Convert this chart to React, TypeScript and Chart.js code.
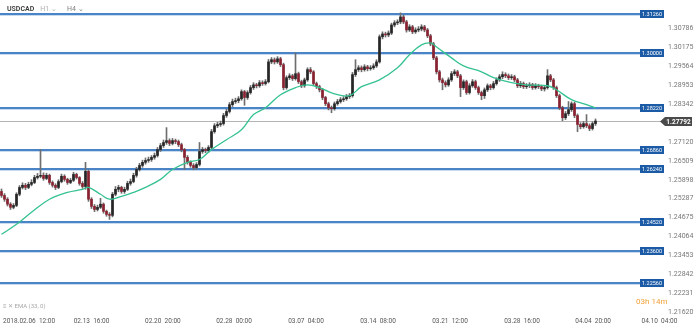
import React, { useEffect, useRef } from "react";
import { Chart, registerables } from "chart.js";
Chart.register(...registerables);

// ---- data (USDCAD, H4) ----
const firstOpen = 1.2552;
const closes = [
  1.2539, 1.2527, 1.2511, 1.2501, 1.2507, 1.2543, 1.2565, 1.2572, 1.2565, 1.2575,
  1.2581, 1.2597, 1.2601, 1.2604, 1.2594, 1.2604, 1.2581, 1.2572, 1.2565, 1.2584,
  1.2601, 1.2591, 1.2581, 1.2588, 1.2607, 1.2597, 1.2578, 1.2568, 1.2617, 1.2527,
  1.2504, 1.2494, 1.2501, 1.2511, 1.2488, 1.2478, 1.2475, 1.2543, 1.2559, 1.2565,
  1.2552, 1.2559, 1.2578, 1.2584, 1.2604, 1.2623, 1.2636, 1.2646, 1.2652, 1.2655,
  1.2662, 1.2668, 1.2687, 1.27, 1.271, 1.2716, 1.2707, 1.2716, 1.2713, 1.2703,
  1.2687, 1.2662, 1.2646, 1.2636, 1.2629, 1.2639, 1.2681, 1.2687, 1.2684, 1.2694,
  1.2745, 1.2764, 1.2768, 1.2771, 1.2797, 1.281, 1.2832, 1.2842, 1.2845, 1.2851,
  1.2874, 1.2855, 1.2871, 1.2887, 1.2896, 1.2893, 1.2903, 1.29, 1.2906, 1.297,
  1.2977, 1.297, 1.298, 1.2961, 1.2887, 1.2919, 1.2925, 1.2916, 1.2932, 1.2906,
  1.2893, 1.2912, 1.2945, 1.2938, 1.29, 1.289, 1.288, 1.2855, 1.2835, 1.2822,
  1.2819, 1.2835, 1.2842, 1.2848, 1.2851, 1.2858, 1.2861, 1.2929, 1.2945, 1.2951,
  1.2945, 1.2954, 1.2948, 1.2951, 1.2957, 1.297, 1.3051, 1.306, 1.3057, 1.3063,
  1.3089, 1.3096, 1.3099, 1.3115, 1.3099, 1.3073, 1.3083, 1.3067, 1.3073, 1.3076,
  1.3083, 1.3073, 1.3054, 1.3028, 1.2983, 1.2938, 1.2912, 1.2903, 1.2896, 1.2912,
  1.2932, 1.2938, 1.2925, 1.2887, 1.2906, 1.2871, 1.2893, 1.2906, 1.2887, 1.2871,
  1.2861, 1.288, 1.2893, 1.2887, 1.29, 1.2912, 1.2922, 1.2929, 1.2925, 1.2919,
  1.2922, 1.2912, 1.2893, 1.29, 1.289, 1.2893, 1.2896, 1.2887, 1.2893, 1.289,
  1.2883, 1.2887, 1.2925, 1.2912, 1.2887, 1.2861, 1.2822, 1.279, 1.2803, 1.2816,
  1.2835, 1.2797, 1.2768, 1.2761, 1.2771, 1.2764, 1.2755, 1.2771, 1.27792,
];
const highs = [
  1.256, 1.2545, 1.2532, 1.2516, 1.2513, 1.2548, 1.2571, 1.258, 1.2578, 1.2582,
  1.259, 1.2604, 1.261, 1.2687, 1.2612, 1.2611, 1.2608, 1.2586, 1.2577, 1.259,
  1.2608, 1.2606, 1.2595, 1.2594, 1.2614, 1.2611, 1.26, 1.2584, 1.2646, 1.2622,
  1.2532, 1.251, 1.2508, 1.253, 1.2515, 1.2492, 1.2484, 1.2549, 1.2568, 1.2572,
  1.2569, 1.2566, 1.2585, 1.2592, 1.2611, 1.263, 1.2643, 1.2653, 1.266, 1.2663,
  1.2668, 1.2676, 1.2694, 1.2707, 1.2718, 1.2758, 1.2722, 1.2723, 1.2721, 1.2718,
  1.2708, 1.2691, 1.2668, 1.2651, 1.2642, 1.2645, 1.271, 1.2694, 1.2692, 1.27,
  1.2752, 1.2771, 1.2775, 1.2779, 1.2804, 1.2817, 1.2839, 1.285, 1.2853, 1.2858,
  1.288, 1.2878, 1.2877, 1.2894, 1.2903, 1.2901, 1.291, 1.2909, 1.2913, 1.2978,
  1.2984, 1.2983, 1.2987, 1.2985, 1.2966, 1.2925, 1.2932, 1.293, 1.2999, 1.2937,
  1.2911, 1.2918, 1.2951, 1.2952, 1.2942, 1.2905, 1.2895, 1.2884, 1.2859, 1.284,
  1.2828, 1.2841, 1.2849, 1.2855, 1.2858, 1.2865, 1.2868, 1.2936, 1.2977, 1.2958,
  1.2957, 1.2961, 1.2959, 1.2958, 1.2964, 1.2977, 1.3057, 1.3067, 1.3066, 1.307,
  1.3095, 1.3103, 1.3106, 1.3128, 1.3121, 1.3104, 1.309, 1.3088, 1.308, 1.3084,
  1.309, 1.3088, 1.3078, 1.3059, 1.3033, 1.2988, 1.2943, 1.2918, 1.2909, 1.2919,
  1.2939, 1.2945, 1.2943, 1.293, 1.2912, 1.2911, 1.29, 1.2913, 1.2911, 1.2892,
  1.2876, 1.2886, 1.2899, 1.2898, 1.2907, 1.2919, 1.2929, 1.2938, 1.2935, 1.2931,
  1.2929, 1.2927, 1.2917, 1.2907, 1.2905, 1.29, 1.2903, 1.2901, 1.29, 1.2898,
  1.2895, 1.2894, 1.2945, 1.293, 1.2917, 1.2892, 1.2866, 1.2827, 1.281, 1.2842,
  1.2841, 1.284, 1.2802, 1.2774, 1.2778, 1.28, 1.277, 1.2777, 1.2786,
];
const lows = [
  1.2533, 1.252, 1.2505, 1.2494, 1.2496, 1.2503, 1.2538, 1.256, 1.2558, 1.2561,
  1.257, 1.2577, 1.2592, 1.2596, 1.2588, 1.259, 1.2575, 1.2566, 1.2558, 1.2561,
  1.258, 1.2585, 1.2575, 1.2577, 1.2584, 1.2592, 1.2572, 1.2562, 1.2559, 1.252,
  1.2497, 1.2487, 1.2489, 1.2497, 1.2482, 1.2472, 1.2462, 1.247, 1.2538, 1.2551,
  1.2546, 1.2546, 1.2555, 1.2572, 1.258, 1.2598, 1.2618, 1.263, 1.264, 1.2646,
  1.2649, 1.2656, 1.2663, 1.2681, 1.2694, 1.2704, 1.27, 1.2702, 1.2706, 1.2697,
  1.268, 1.2623, 1.264, 1.263, 1.2622, 1.2624, 1.2634, 1.2675, 1.2677, 1.2678,
  1.269, 1.274, 1.2758, 1.2762, 1.2766, 1.2791, 1.2805, 1.2826, 1.2836, 1.2838,
  1.2846, 1.283, 1.2849, 1.2866, 1.2881, 1.2886, 1.2888, 1.2894, 1.2895, 1.2902,
  1.2964, 1.2963, 1.2965, 1.2955, 1.288, 1.2882, 1.2913, 1.291, 1.2911, 1.29,
  1.2887, 1.2888, 1.2907, 1.2932, 1.2894, 1.2884, 1.2873, 1.2848, 1.2829, 1.2815,
  1.2806, 1.2814, 1.283, 1.2837, 1.2842, 1.2846, 1.2852, 1.2856, 1.2923, 1.2939,
  1.2938, 1.294, 1.2941, 1.2943, 1.2946, 1.2952, 1.2966, 1.3044, 1.305, 1.3051,
  1.3058, 1.3083, 1.309, 1.3093, 1.3093, 1.3066, 1.3068, 1.3061, 1.3062, 1.3067,
  1.307, 1.3067, 1.3048, 1.3022, 1.2977, 1.2931, 1.2905, 1.288, 1.2889, 1.2891,
  1.2907, 1.2926, 1.2919, 1.2858, 1.2881, 1.2865, 1.2866, 1.2888, 1.2881, 1.2865,
  1.2848, 1.2852, 1.2874, 1.288, 1.2882, 1.2895, 1.2907, 1.2916, 1.2919, 1.2913,
  1.2913, 1.2906, 1.2887, 1.2887, 1.2884, 1.2884, 1.2887, 1.2881, 1.2882, 1.2884,
  1.2877, 1.2876, 1.2882, 1.2906, 1.2881, 1.2855, 1.2816, 1.278, 1.2784, 1.2797,
  1.281, 1.279, 1.2745, 1.2754, 1.2756, 1.2758, 1.2748, 1.275, 1.2765,
];
const emaBars = [0, 5, 10, 16, 22, 27, 29, 33, 36, 40, 44, 48, 53, 57, 62, 66, 70, 75, 80, 84, 88, 93, 98, 102, 106, 111, 116, 120, 126, 132, 136, 140, 143, 145, 150, 154, 160, 164, 170, 175, 182, 185, 190, 195, 198];
const emaValues = [1.2414, 1.2446, 1.2485, 1.2527, 1.2549, 1.2559, 1.2565, 1.2543, 1.2527, 1.2536, 1.2549, 1.2565, 1.2591, 1.2623, 1.2646, 1.2655, 1.2687, 1.2719, 1.2751, 1.28, 1.2822, 1.2864, 1.2887, 1.2896, 1.2887, 1.2867, 1.2861, 1.289, 1.2912, 1.2951, 1.2993, 1.3025, 1.3031, 1.3018, 1.2983, 1.2957, 1.2938, 1.2919, 1.2903, 1.2896, 1.2893, 1.288, 1.2848, 1.2832, 1.2822];
const levels = [1.3126, 1.3, 1.2822, 1.2686, 1.2624, 1.2452, 1.236, 1.2256];
const currentPrice = 1.27792;
const yTickLabels = ["1.30786", "1.30175", "1.29564", "1.28953", "1.28342", "1.27120", "1.26509", "1.25898", "1.25287", "1.24675", "1.24064", "1.23453", "1.22842", "1.22231", "1.21620"];
const xTickLabels = ["2018.02.06  12:00", "02.13  16:00", "02.20  20:00", "02.28  00:00", "03.07  04:00", "03.14  08:00", "03.21  12:00", "03.28  16:00", "04.04  20:00", "04.10  04:00"];
const xTickBars = [9.2, 30, 53.8, 77.5, 101.5, 125.5, 149.5, 173.5, 197.2, 219.3];

const UP = "#262626";
const DOWN = "#8a2231";
const WICK = "#6e6e6e";
const LEVEL = "#4a84c6";
const LEVEL_BOX = "#1b5aa5";
const EMA_COLOR = "#35c291";
const FONT = "Roboto, 'Noto Sans', sans-serif";

const levelsPlugin = {
  id: "levels",
  beforeDatasetsDraw(chart: any) {
    const { ctx, scales } = chart;
    const y = scales.y;
    ctx.save();
    levels.forEach((v) => {
      const py = Math.round(y.getPixelForValue(v));
      ctx.fillStyle = LEVEL;
      ctx.fillRect(0, py - 1, 641, 2);
      ctx.fillStyle = "rgba(74,132,198,0.3)";
      ctx.fillRect(0, py + 1, 641, 1);
    });
    const cp = Math.round(y.getPixelForValue(currentPrice));
    ctx.fillStyle = "#b4b4b4";
    ctx.fillRect(0, cp, 665, 1);
    ctx.restore();
  },
  afterDraw(chart: any) {
    const { ctx, scales } = chart;
    const y = scales.y;
    ctx.save();
    ctx.textBaseline = "middle";
    levels.forEach((v) => {
      const py = Math.round(y.getPixelForValue(v));
      ctx.fillStyle = LEVEL_BOX;
      ctx.fillRect(640, py - 4, 24, 8);
      ctx.fillStyle = "#ffffff";
      ctx.font = `5.5px ${FONT}`;
      ctx.textAlign = "center";
      ctx.fillText(v.toFixed(5), 652, py + 0.5);
    });
    const cp = Math.round(y.getPixelForValue(currentPrice)) + 0.5;
    ctx.fillStyle = "#4a4a4a";
    ctx.beginPath();
    ctx.moveTo(660, cp);
    ctx.lineTo(665, cp - 4.5);
    ctx.lineTo(692, cp - 4.5);
    ctx.lineTo(692, cp + 4.5);
    ctx.lineTo(665, cp + 4.5);
    ctx.closePath();
    ctx.fill();
    ctx.fillStyle = "#ffffff";
    ctx.font = `bold 6.5px ${FONT}`;
    ctx.textAlign = "center";
    ctx.fillText(currentPrice.toFixed(5), 678.5, cp + 0.5);
    ctx.restore();
  },
};

export default function App() {
  const ref = useRef<HTMLCanvasElement | null>(null);
  useEffect(() => {
    document.body.style.margin = "0";
    const opens = closes.map((c, i) => (i === 0 ? firstOpen : closes[i - 1]));
    const wickData = closes.map((_, i) => ({ x: i, y: [lows[i], highs[i]] }));
    const bodyData = closes.map((c, i) => ({ x: i, y: [opens[i], c] }));
    const bodyColors = closes.map((c, i) => (c >= opens[i] ? UP : DOWN));
    const emaData = emaBars.map((b, i) => ({ x: b, y: emaValues[i] }));
    const zeroPad = (s: any) => {
      s.paddingLeft = 0;
      s.paddingRight = 0;
      s.paddingTop = 0;
      s.paddingBottom = 0;
    };
    const chart = new Chart(ref.current as HTMLCanvasElement, {
      type: "bar",
      data: {
        datasets: [
          {
            type: "line",
            data: emaData as any,
            borderColor: EMA_COLOR,
            borderWidth: 1.3,
            pointRadius: 0,
            tension: 0.4,
            order: 0,
          } as any,
          {
            data: bodyData as any,
            backgroundColor: bodyColors,
            barThickness: 2,
            grouped: false,
            borderWidth: 0,
            order: 1,
          } as any,
          {
            data: wickData as any,
            backgroundColor: WICK,
            barThickness: 1,
            grouped: false,
            borderWidth: 0,
            order: 2,
          } as any,
        ],
      },
      options: {
        animation: false,
        responsive: false,
        maintainAspectRatio: false,
        layout: { padding: 0, autoPadding: false },
        plugins: { legend: { display: false }, tooltip: { enabled: false } },
        scales: {
          x: {
            type: "linear",
            offset: false,
            min: -0.5,
            max: 220.83,
            grid: { display: false, drawTicks: false, offset: false },
            border: { display: false },
            afterBuildTicks: (s: any) => {
              s.ticks = xTickBars.map((v) => ({ value: v }));
            },
            afterFit: (s: any) => {
              s.height = 14;
              zeroPad(s);
            },
            ticks: {
              autoSkip: false,
              maxRotation: 0,
              padding: 4,
              color: "#555",
              font: { size: 6.5, family: FONT },
              callback: (_v: any, i: number) => xTickLabels[i],
            },
          },
          y: {
            position: "right",
            min: 1.216,
            max: 1.31696,
            grid: { display: false, drawTicks: false },
            border: { display: false },
            afterBuildTicks: (s: any) => {
              s.ticks = yTickLabels.map((l) => ({ value: Number(l) }));
            },
            afterFit: (s: any) => {
              s.width = 36;
              zeroPad(s);
            },
            ticks: {
              padding: 4,
              color: "#777",
              font: { size: 7, family: FONT },
              callback: (_v: any, i: number) => yTickLabels[i],
            },
          },
        },
      } as any,
      plugins: [levelsPlugin],
    });
    return () => chart.destroy();
  }, []);

  return (
    <div style={{ position: "relative", width: 700, height: 327, background: "#fff", fontFamily: FONT }}>
      <canvas ref={ref} width={700} height={327} style={{ display: "block" }} />
      <div style={{ position: "absolute", left: 7, top: 5, fontSize: 7, lineHeight: "8px", whiteSpace: "nowrap" }}>
        <span style={{ color: "#3a3a3a", fontWeight: 600 }}>USDCAD</span>
        <span style={{ color: "#b0b0b0", marginLeft: 6 }}>H1 ⌄</span>
        <span style={{ color: "#808080", marginLeft: 10 }}>H4 ⌄</span>
      </div>
      <div style={{ position: "absolute", left: 3, top: 302, fontSize: 6, lineHeight: "7px", color: "#a8a8a8", whiteSpace: "nowrap" }}>
        ≡ ✕ EMA (33, 0)
      </div>
      <div style={{ position: "absolute", left: 636, top: 297, fontSize: 8, lineHeight: "9px", color: "#f3a23a", whiteSpace: "nowrap" }}>
        03h 14m
      </div>
    </div>
  );
}
